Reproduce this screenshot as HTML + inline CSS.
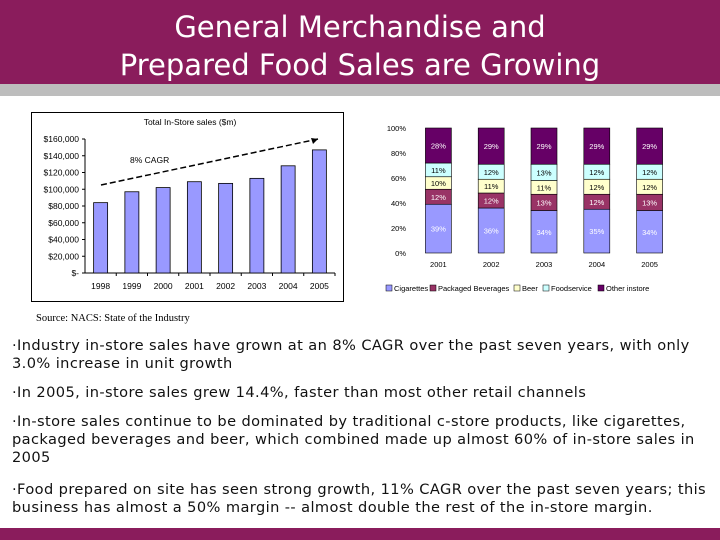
<!DOCTYPE html>
<html><head><meta charset="utf-8"><style>
body{margin:0;width:720px;height:540px;position:relative;background:#fff;overflow:hidden;font-family:"DejaVu Sans","Liberation Sans",sans-serif}
.hdr{position:absolute;left:0;top:0;width:720px;height:84px;background:#8a1c5c;color:#fff;text-align:center;font-size:29px;line-height:38px;padding-top:8px;box-sizing:border-box}
.gray{position:absolute;left:0;top:84px;width:720px;height:12px;background:#bdbdbd}
.foot{position:absolute;left:0;top:528px;width:720px;height:12px;background:#8a1c5c}
.t{position:absolute;left:12px;font-size:14.6px;white-space:nowrap;color:#111;letter-spacing:0.4px}
svg text{font-family:"Liberation Sans",sans-serif}
</style></head><body>
<div class="hdr">General Merchandise and<br>Prepared Food Sales are Growing</div>
<div class="gray"></div>
<svg width="720" height="540" style="position:absolute;left:0;top:0" id="svg">
<rect x="31.5" y="112.5" width="312" height="189" fill="#fff" stroke="#000"/>
<text x="190" y="125" font-size="8.5" text-anchor="middle">Total In-Store sales ($m)</text>
<g id="left"></g>
<g id="right"></g>
</svg>
<div style="position:absolute;left:36px;top:313px;font-family:'Liberation Serif',serif;font-size:10.5px">Source: NACS: State of the Industry</div>
<div class="t" style="top:337px">·Industry in-store sales have grown at an 8% CAGR over the past seven years, with only</div>
<div class="t" style="top:355px">3.0% increase in unit growth</div>
<div class="t" style="top:384px">·In 2005, in-store sales grew 14.4%, faster than most other retail channels</div>
<div class="t" style="top:413px">·In-store sales continue to be dominated by traditional c-store products, like cigarettes,</div>
<div class="t" style="top:431px">packaged beverages and beer, which combined made up almost 60% of in-store sales in</div>
<div class="t" style="top:449px">2005</div>
<div class="t" style="top:481px">·Food prepared on site has seen strong growth, 11% CAGR over the past seven years; this</div>
<div class="t" style="top:499px">business has almost a 50% margin -- almost double the rest of the in-store margin.</div>
<div class="foot"></div>
<script>
const years=["1998","1999","2000","2001","2002","2003","2004","2005"];
const sales=[84000,97000,102000,109000,107000,113000,128000,147000];
const yTicks=[0,20000,40000,60000,80000,100000,120000,140000,160000];
const yTickLabels=["$-","$20,000","$40,000","$60,000","$80,000","$100,000","$120,000","$140,000","$160,000"];
const years2=["2001","2002","2003","2004","2005"];
const seriesNames=["Cigarettes","Packaged Beverages","Beer","Foodservice","Other instore"];
const cig=[39,36,34,35,34];
const bev=[12,12,13,12,13];
const beer=[10,11,11,12,12];
const food=[11,12,13,12,12];
const other=[28,29,29,29,29];
const pctTicks=[0,20,40,60,80,100];
const NS="http://www.w3.org/2000/svg";
function mk(p,tag,a,txt){const e=document.createElementNS(NS,tag);for(const k in a)e.setAttribute(k,a[k]);if(txt!==undefined)e.textContent=txt;p.appendChild(e);return e;}
// left chart
const L=document.getElementById('left');
const x0=85,x1=335,yb=273,yt=139,ymax=160000;
const ly=v=>yb-(v/ymax)*(yb-yt);
const band=(x1-x0)/years.length;
const lx=i=>x0+band*(i+0.5);
let e=mk(L,'line',{x1:x0,y1:yt,x2:x0,y2:yb,stroke:'#000','stroke-width':1});


e=mk(L,'line',{x1:x0,y1:yb,x2:x1,y2:yb,stroke:'#000','stroke-width':1});


yTicks.forEach((v,i)=>{
 const t=mk(L,'text',{x:x0-6,y:ly(v)+3,'font-size':8.5,'text-anchor':'end'},yTickLabels[i]);
 
 
 mk(L,'line',{x1:x0-3,y1:ly(v),x2:x0,y2:ly(v),stroke:'#000'});
});
years.forEach((y,i)=>{
 const w=14;
 const r=mk(L,'rect',{x:lx(i)-w/2,y:ly(sales[i]),width:w,height:yb-ly(sales[i]),fill:'#9999ff',stroke:'#000','stroke-width':0.8});
 
 
 const t=mk(L,'text',{x:lx(i),y:yb+16,'font-size':8.5,'text-anchor':'middle'},y);
 
 
 mk(L,'line',{x1:x0+band*(i+1),y1:yb,x2:x0+band*(i+1),y2:yb+3,stroke:'#000'});
});
e=mk(L,'line',{x1:101,y1:185,x2:318,y2:139,stroke:'#000','stroke-width':1.5,'stroke-dasharray':'6,3'});


mk(L,'polygon',{points:'318,139 311,138 313,144',fill:'#000'});
e=mk(L,'text',{x:130,y:163,'font-size':8.5},'8% CAGR');


// right chart
const R=document.getElementById('right');
const rb=253,rt=128,rx0=412,rx1=676;
const ry=v=>rb-(v/100)*(rb-rt);
const rband=(rx1-rx0)/years2.length;
const rx=i=>rx0+rband*(i+0.5);
const colors=['#9999ff','#993366','#ffffcc','#ccffff','#660066'];
const txtCol=['#fff','#fff','#000','#000','#fff'];
const series=[cig,bev,beer,food,other];
pctTicks.forEach(v=>{
 const t=mk(R,'text',{x:406,y:ry(v)+3,'font-size':7.5,'text-anchor':'end'},v+'%');
 
 
});
years2.forEach((y,i)=>{
 let acc=0;const w=26;
 series.forEach((s,k)=>{
  const y1=ry(acc+s[i]),y0=ry(acc);
  const r=mk(R,'rect',{x:rx(i)-w/2,y:y1,width:w,height:y0-y1,fill:colors[k],stroke:'#000','stroke-width':0.6});
  
  
  const t=mk(R,'text',{x:rx(i),y:(y0+y1)/2+3,'font-size':7.5,'text-anchor':'middle',fill:txtCol[k]},s[i]+'%');
  
  
  acc+=s[i];
 });
 const t=mk(R,'text',{x:rx(i),y:rb+14,'font-size':7.5,'text-anchor':'middle'},y);
 
 
});
let lxp=386;
const lw=[44,84,29,55,60];
seriesNames.forEach((n,k)=>{
 const r=mk(R,'rect',{x:lxp,y:285,width:6,height:6,fill:colors[k],stroke:'#000','stroke-width':0.5});
 
 
 const t=mk(R,'text',{x:lxp+8,y:291,'font-size':7.5},n);
 
 
 lxp+=lw[k];
});
</script>
</body></html>
